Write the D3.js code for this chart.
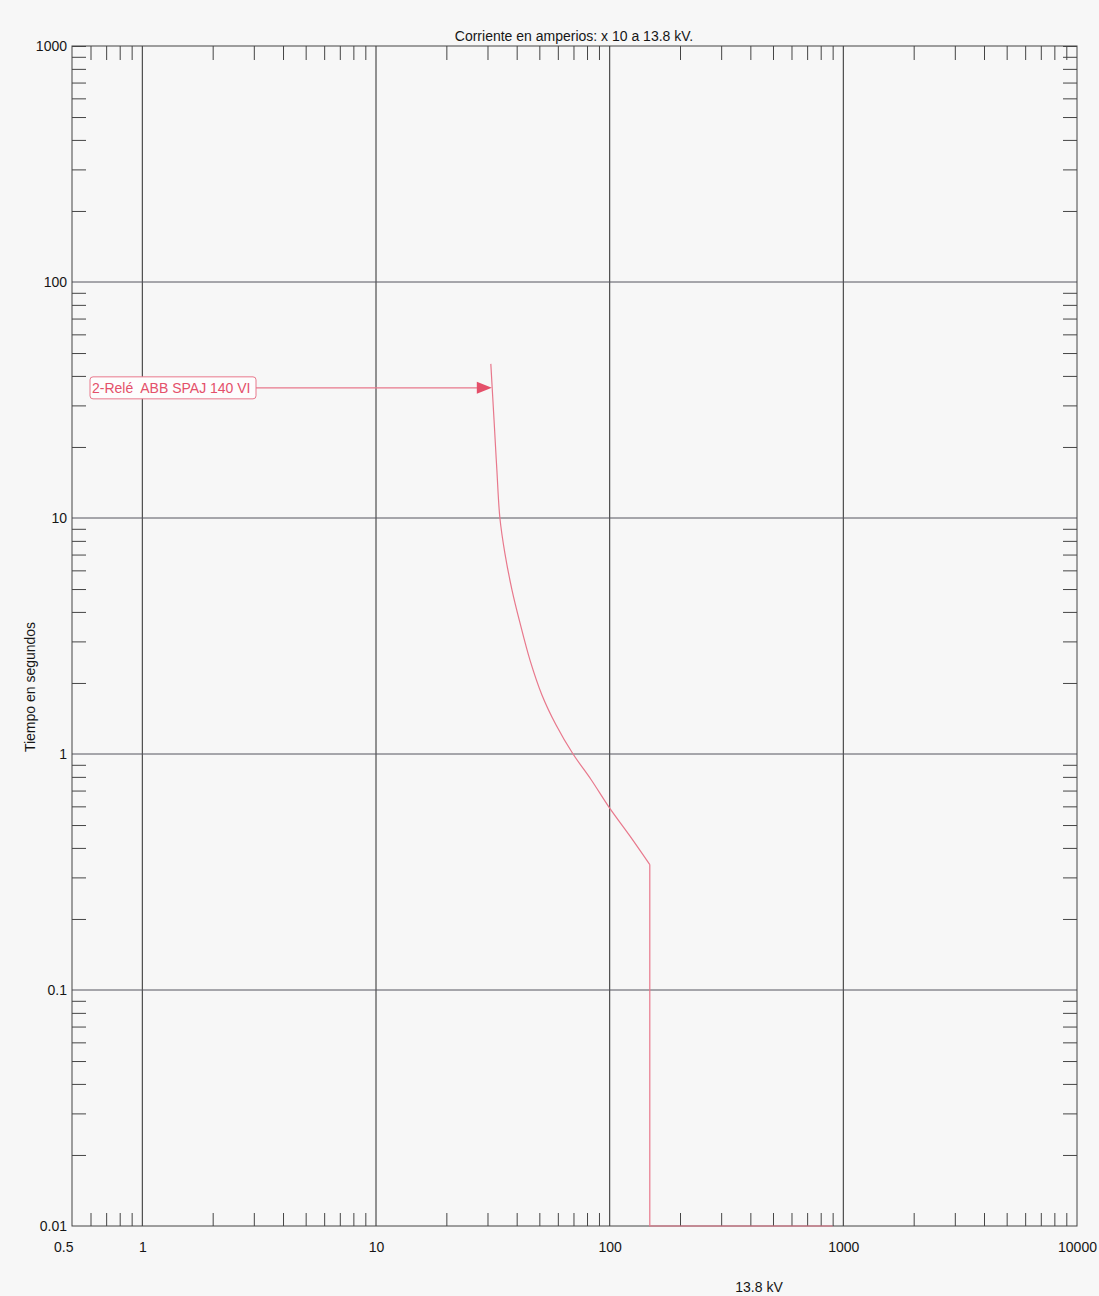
<!DOCTYPE html>
<html>
<head>
<meta charset="utf-8">
<script src="https://cdn.jsdelivr.net/npm/d3@7"></script>
<style>
  html, body { margin: 0; padding: 0; background: #f7f7f7; }
  svg { display: block; }
  text { font-family: "Liberation Sans", Arial, sans-serif; }
</style>
</head>
<body>
<svg id="chart" width="1099" height="1296"></svg>
<script>
// ---------- data ----------
const titleText = "Corriente en amperios: x 10 a 13.8 kV.";
const yAxisTitle = "Tiempo en segundos";
const xAxisTitle = "13.8 kV";
const xTickLabels = [0.5, 1, 10, 100, 1000, 10000];
const yTickLabels = [0.01, 0.1, 1, 10, 100, 1000];
const xGridValues = [1, 10, 100, 1000];
const yGridValues = [0.1, 1, 10, 100];
const xMinorTicks = [0.6, 0.7, 0.8, 0.9, 2, 3, 4, 5, 6, 7, 8, 9, 20, 30, 40, 50, 60, 70, 80, 90,
  200, 300, 400, 500, 600, 700, 800, 900, 2000, 3000, 4000, 5000, 6000, 7000, 8000, 9000];
const yMinorTicks = [0.02, 0.03, 0.04, 0.05, 0.06, 0.07, 0.08, 0.09, 0.2, 0.3, 0.4, 0.5, 0.6, 0.7, 0.8, 0.9,
  2, 3, 4, 5, 6, 7, 8, 9, 20, 30, 40, 50, 60, 70, 80, 90, 200, 300, 400, 500, 600, 700, 800, 900];
// relay curve (inverse-time part): current (A x10) and time (s)
const curveCurrent = [31.0, 32.0, 32.9, 33.9, 35.6, 38.2, 41.3, 45.6, 51.3, 58.9, 69.7, 83.2, 100, 122, 148.5];
const curveTime    = [45,   26,   16,   10,   7.1,  4.95, 3.6,  2.5,  1.78, 1.33, 1.0,  0.78, 0.59, 0.45, 0.34];
// instantaneous part: current and time
const instCurrent = [148.5, 148.5, 900];
const instTime    = [0.34, 0.01, 0.01];
const labelText = "2-Relé  ABB SPAJ 140 VI";
const labelTarget = [31.3, 35.6];

// ---------- layout ----------
const svg = d3.select("#chart");
const L = 72, R = 1077, T = 46, B = 1226;
const x = d3.scaleLog().domain([0.5, 10000]).range([L, R]);
const y = d3.scaleLog().domain([0.01, 1000]).range([B, T]);
const axisCol = "#454545";
const curveCol = "#e8788c";
const labelCol = "#e4506a";
const txtCol = "#161616";

// grid
svg.append("g").selectAll("line").data(xGridValues).join("line")
  .attr("x1", d => x(d)).attr("x2", d => x(d)).attr("y1", T).attr("y2", B)
  .attr("stroke", "#3e3e3e").attr("stroke-width", 1.1);
svg.append("g").selectAll("line").data(yGridValues).join("line")
  .attr("x1", L).attr("x2", R).attr("y1", d => y(d)).attr("y2", d => y(d))
  .attr("stroke", "#55555f").attr("stroke-width", 1);

function styleAxis(g) {
  g.select(".domain").remove();
  g.selectAll(".tick line").attr("stroke", axisCol).attr("stroke-width", 1);
}
// minor ticks (inward)
svg.append("g").attr("transform", `translate(0,${B})`)
  .call(d3.axisTop(x).tickValues(xMinorTicks).tickSize(13).tickFormat("")).call(styleAxis);
svg.append("g").attr("transform", `translate(0,${T})`)
  .call(d3.axisBottom(x).tickValues(xMinorTicks).tickSize(14).tickFormat("")).call(styleAxis);
svg.append("g").attr("transform", `translate(${L},0)`)
  .call(d3.axisRight(y).tickValues(yMinorTicks.concat([1000])).tickSize(14).tickFormat("")).call(styleAxis);
svg.append("g").attr("transform", `translate(${R},0)`)
  .call(d3.axisLeft(y).tickValues(yMinorTicks.concat([1000])).tickSize(14).tickFormat("")).call(styleAxis);

// frame
svg.append("rect").attr("x", L).attr("y", T).attr("width", R - L).attr("height", B - T)
  .attr("fill", "none").attr("stroke", axisCol).attr("stroke-width", 1);

// tick labels
const xl = svg.append("g").attr("transform", `translate(0,${B})`)
  .call(d3.axisBottom(x).tickValues(xTickLabels).tickSize(0).tickPadding(16).tickFormat(d => String(d)));
xl.select(".domain").remove();
xl.selectAll("text").attr("font-size", 14).attr("fill", txtCol)
  .attr("font-family", "Liberation Sans, Arial, sans-serif");
xl.selectAll(".tick").filter(d => d === 0.5).select("text").attr("text-anchor", "end").attr("x", 1);

const yl = svg.append("g").attr("transform", `translate(${L},0)`)
  .call(d3.axisLeft(y).tickValues(yTickLabels).tickSize(0).tickPadding(5).tickFormat(d => String(d)));
yl.select(".domain").remove();
yl.selectAll("text").attr("font-size", 14).attr("fill", txtCol)
  .attr("font-family", "Liberation Sans, Arial, sans-serif");

// titles
svg.append("text").attr("x", 574).attr("y", 41).attr("text-anchor", "middle")
  .attr("font-size", 14).attr("fill", txtCol).text(titleText);
svg.append("text").attr("transform", "translate(35,687) rotate(-90)").attr("text-anchor", "middle")
  .attr("font-size", 14).attr("fill", txtCol).text(yAxisTitle);
svg.append("text").attr("x", 759).attr("y", 1292).attr("text-anchor", "middle")
  .attr("font-size", 14).attr("fill", txtCol).text(xAxisTitle);

// curve
const smooth = curveCurrent.map((c, i) => [c, curveTime[i]]);
const inst = instCurrent.map((c, i) => [c, instTime[i]]);
svg.append("path").datum(smooth)
  .attr("d", d3.line().x(d => x(d[0])).y(d => y(d[1])).curve(d3.curveCatmullRom.alpha(0.5)))
  .attr("fill", "none").attr("stroke", curveCol).attr("stroke-width", 1.2);
svg.append("path").datum(inst)
  .attr("d", d3.line().x(d => x(d[0])).y(d => y(d[1])))
  .attr("fill", "none").attr("stroke", curveCol).attr("stroke-width", 1.2);

// annotation
const tx = x(labelTarget[0]), ty = y(labelTarget[1]);
const boxX = L + 18, boxW = 166, boxH = 22;
svg.append("line").attr("x1", boxX + boxW).attr("x2", tx - 14).attr("y1", ty).attr("y2", ty)
  .attr("stroke", curveCol).attr("stroke-width", 1.2);
svg.append("path")
  .attr("d", `M${tx},${ty} L${tx - 15},${ty - 6} L${tx - 15},${ty + 6} Z`)
  .attr("fill", labelCol);
svg.append("rect").attr("x", boxX).attr("y", ty - boxH / 2).attr("width", boxW).attr("height", boxH)
  .attr("rx", 3).attr("fill", "#fdfdfd").attr("stroke", curveCol).attr("stroke-width", 1);
svg.append("text").attr("x", boxX + 2).attr("y", ty + 5).attr("font-size", 14)
  .attr("fill", labelCol).style("white-space", "pre").text(labelText);
</script>
</body>
</html>
